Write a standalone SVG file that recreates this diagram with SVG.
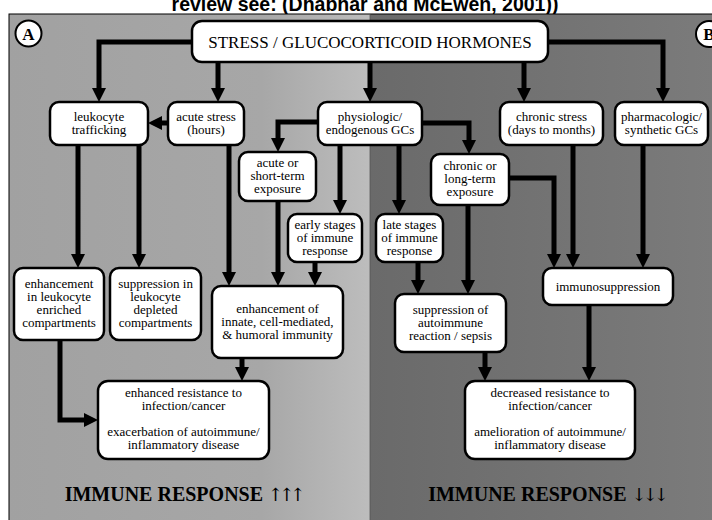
<svg xmlns="http://www.w3.org/2000/svg" width="712" height="520" viewBox="0 0 712 520">
<defs>
<style>
.box{fill:#fff;stroke:#000;stroke-width:2.5}
.t{font-family:"Liberation Serif","Times New Roman",serif;font-size:13px;fill:#000;text-anchor:middle}
.big{font-family:"Liberation Serif","Times New Roman",serif;font-size:17px;fill:#000;text-anchor:middle}
.ir{font-family:"Liberation Serif","Times New Roman",serif;font-size:20px;font-weight:bold;fill:#000;text-anchor:middle}
.arr{font-family:"DejaVu Serif","DejaVu Sans",serif;font-size:18px;font-weight:normal;letter-spacing:-4px}
.lab{font-family:"Liberation Serif","Times New Roman",serif;font-size:17px;font-weight:bold;fill:#000;text-anchor:middle}
.c{fill:none;stroke:#000;stroke-width:5;stroke-linejoin:miter}
</style>
<linearGradient id="gl" x1="9" y1="0" x2="370" y2="0" gradientUnits="userSpaceOnUse">
<stop offset="0" stop-color="#a1a1a1"/><stop offset="0.7" stop-color="#a7a7a7"/><stop offset="1" stop-color="#bdbdbd"/>
</linearGradient>
<linearGradient id="gr" x1="370" y1="0" x2="712" y2="0" gradientUnits="userSpaceOnUse">
<stop offset="0" stop-color="#6a6a6a"/><stop offset="1" stop-color="#7b7b7b"/>
</linearGradient>
<marker id="ah" viewBox="0 0 14 14" markerWidth="14" markerHeight="14" markerUnits="userSpaceOnUse" refX="1" refY="7" orient="auto">
<path d="M0,0 L14,7 L0,14 z" fill="#000"/>
</marker>
</defs>
<rect width="712" height="520" fill="#fff"/>
<text x="365" y="11" style="font-family:'Liberation Sans',Arial,sans-serif;font-size:19.5px;font-weight:bold;text-anchor:middle" fill="#000">review see: (Dhabhar and McEwen, 2001))</text>
<g id="panels">
<rect x="9" y="14" width="361" height="510" fill="url(#gl)"/>
<rect x="370" y="14" width="350" height="510" fill="url(#gr)"/>
<rect x="9" y="14" width="720" height="520" fill="none" stroke="#000" stroke-width="1"/>
<line x1="370" y1="14" x2="370" y2="520" stroke="#555" stroke-width="0.8"/>
</g>
<g id="labelA"><circle cx="28.5" cy="33.5" r="13" fill="#fff" stroke="#000" stroke-width="2"/><text class="lab" x="28.5" y="39.5">A</text></g>
<g id="labelB"><circle cx="709" cy="34" r="13" fill="#fff" stroke="#000" stroke-width="2"/><text class="lab" x="709" y="40">B</text></g>
<g id="connectors">
<path class="c" d="M192,42 H99 V89" marker-end="url(#ah)"/>
<path class="c" d="M218,62 V89" marker-end="url(#ah)"/>
<path class="c" d="M370,62 V89" marker-end="url(#ah)"/>
<path class="c" d="M524,62 V89" marker-end="url(#ah)"/>
<path class="c" d="M548,42 H663 V89" marker-end="url(#ah)"/>
<path class="c" d="M168,123 H161" marker-end="url(#ah)"/>
<path class="c" d="M318,122 H278 V139" marker-end="url(#ah)"/>
<path class="c" d="M340,145 V201" marker-end="url(#ah)"/>
<path class="c" d="M399,145 V201" marker-end="url(#ah)"/>
<path class="c" d="M422,123 H469 V141" marker-end="url(#ah)"/>
<path class="c" d="M78,145 V255" marker-end="url(#ah)"/>
<path class="c" d="M139,145 V255" marker-end="url(#ah)"/>
<path class="c" d="M229,145 V273" marker-end="url(#ah)"/>
<path class="c" d="M278,201 V273" marker-end="url(#ah)"/>
<path class="c" d="M315,262 V273" marker-end="url(#ah)"/>
<path class="c" d="M418,262 V281" marker-end="url(#ah)"/>
<path class="c" d="M468,205 V281" marker-end="url(#ah)"/>
<path class="c" d="M509,178 H554 V255" marker-end="url(#ah)"/>
<path class="c" d="M573,145 V255" marker-end="url(#ah)"/>
<path class="c" d="M643,145 V255" marker-end="url(#ah)"/>
<path class="c" d="M60,340 V420 H85" marker-end="url(#ah)"/>
<path class="c" d="M242,358 V368" marker-end="url(#ah)"/>
<path class="c" d="M485,352 V368" marker-end="url(#ah)"/>
<path class="c" d="M589,305 V368" marker-end="url(#ah)"/>
</g>
<g id="stress"><rect class="box" x="192" y="21" width="356" height="41" rx="10"/><text class="big" x="370" y="47.5">STRESS / GLUCOCORTICOID HORMONES</text></g>
<g id="leuk"><rect class="box" x="50" y="102" width="98" height="43" rx="9"/><text class="t" x="99" y="121">leukocyte</text><text class="t" x="99" y="134">trafficking</text></g>
<g id="acute"><rect class="box" x="168" y="102" width="76" height="43" rx="9"/><text class="t" x="206" y="121">acute stress</text><text class="t" x="206" y="134">(hours)</text></g>
<g id="physio"><rect class="box" x="318" y="102" width="104" height="43" rx="9"/><text class="t" x="370" y="121">physiologic/</text><text class="t" x="370" y="134">endogenous GCs</text></g>
<g id="chronic"><rect class="box" x="500" y="102" width="103" height="43" rx="9"/><text class="t" x="551.5" y="121">chronic stress</text><text class="t" x="551.5" y="134">(days to months)</text></g>
<g id="pharma"><rect class="box" x="615" y="102" width="93" height="43" rx="9"/><text class="t" x="661.5" y="121">pharmacologic/</text><text class="t" x="661.5" y="134">synthetic GCs</text></g>
<g id="acuteor"><rect class="box" x="239" y="152" width="77" height="49" rx="9"/><text class="t" x="277.5" y="167">acute or</text><text class="t" x="277.5" y="180">short-term</text><text class="t" x="277.5" y="193">exposure</text></g>
<g id="chronicor"><rect class="box" x="431" y="154" width="78" height="51" rx="9"/><text class="t" x="470" y="170">chronic or</text><text class="t" x="470" y="183">long-term</text><text class="t" x="470" y="196">exposure</text></g>
<g id="early"><rect class="box" x="288" y="214" width="74" height="48" rx="9"/><text class="t" x="325" y="229">early stages</text><text class="t" x="325" y="242">of immune</text><text class="t" x="325" y="255">response</text></g>
<g id="late"><rect class="box" x="376" y="214" width="67" height="48" rx="9"/><text class="t" x="409.5" y="229">late stages</text><text class="t" x="409.5" y="242">of immune</text><text class="t" x="409.5" y="255">response</text></g>
<g id="enhin"><rect class="box" x="14" y="268" width="90" height="72" rx="9"/><text class="t" x="59" y="288">enhancement</text><text class="t" x="59" y="301">in leukocyte</text><text class="t" x="59" y="314">enriched</text><text class="t" x="59" y="327">compartments</text></g>
<g id="suppin"><rect class="box" x="110" y="268" width="91" height="72" rx="9"/><text class="t" x="155.5" y="288">suppression in</text><text class="t" x="155.5" y="301">leukocyte</text><text class="t" x="155.5" y="314">depleted</text><text class="t" x="155.5" y="327">compartments</text></g>
<g id="enhof"><rect class="box" x="212" y="286" width="131" height="72" rx="9"/><text class="t" x="277.5" y="313">enhancement of</text><text class="t" x="277.5" y="326">innate, cell-mediated,</text><text class="t" x="277.5" y="339">&amp; humoral immunity</text></g>
<g id="immsupp"><rect class="box" x="543" y="268" width="130" height="37" rx="9"/><text class="t" x="608" y="291">immunosuppression</text></g>
<g id="suppof"><rect class="box" x="395" y="294" width="111" height="58" rx="9"/><text class="t" x="450.5" y="314">suppression of</text><text class="t" x="450.5" y="327">autoimmune</text><text class="t" x="450.5" y="340">reaction / sepsis</text></g>
<g id="enhres"><rect class="box" x="98" y="381" width="171" height="78" rx="10"/><text class="t" x="183.5" y="397">enhanced resistance to</text><text class="t" x="183.5" y="410">infection/cancer</text><text class="t" x="183.5" y="436">exacerbation of autoimmune/</text><text class="t" x="183.5" y="449">inflammatory disease</text></g>
<g id="decres"><rect class="box" x="465" y="381" width="170" height="78" rx="10"/><text class="t" x="550" y="397">decreased resistance to</text><text class="t" x="550" y="410">infection/cancer</text><text class="t" x="550" y="436">amelioration of autoimmune/</text><text class="t" x="550" y="449">inflammatory disease</text></g>
<g id="irA"><text class="ir" x="183" y="501">IMMUNE RESPONSE <tspan class="arr">↑↑↑</tspan></text></g>
<g id="irB"><text class="ir" x="546.5" y="501">IMMUNE RESPONSE <tspan class="arr">↓↓↓</tspan></text></g>
</svg>
